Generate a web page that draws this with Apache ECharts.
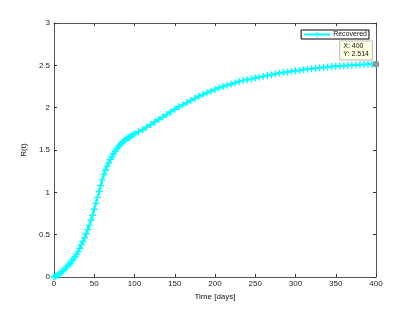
<!DOCTYPE html>
<html>
<head>
<meta charset="utf-8">
<script src="https://cdn.jsdelivr.net/npm/echarts@6/dist/echarts.min.js"></script>
<style>html,body{margin:0;padding:0;background:#fff;}#c{width:415px;height:312px;}</style>
</head>
<body>
<div id="c"></div>
<script>
// Data
const days = [0,2,4,6,8,10,12,14,16,18,20,22,24,26,28,30,32,34,36,38,40,42,44,46,48,50,52,54,56,58,60,62,64,66,68,70,72,74,76,78,80,82,84,86,88,90,92,94,96,98,100,
  105,110,115,120,125,130,135,140,145,150,155,160,165,170,175,180,185,190,195,200,205,210,215,220,225,230,235,240,245,250,255,260,265,270,275,280,285,290,295,300,305,310,315,320,325,330,335,340,345,350,355,360,365,370,375,380,385,390,395,400];
const recovered = [0,0.008,0.02,0.033,0.046,0.06,0.08,0.10,0.12,0.14,0.16,0.185,0.21,0.24,0.27,0.30,0.34,0.38,0.42,0.465,0.51,0.56,0.61,0.67,0.73,0.80,0.87,0.94,1.01,1.08,1.15,1.21,1.26,1.31,1.35,1.39,1.42,1.455,1.485,1.515,1.54,1.56,1.58,1.60,1.615,1.63,1.645,1.655,1.665,1.68,1.69,
  1.715,1.74,1.77,1.80,1.83,1.86,1.89,1.92,1.95,1.98,2.01,2.035,2.06,2.085,2.11,2.135,2.155,2.175,2.195,2.215,2.235,2.25,2.265,2.28,2.295,2.31,2.32,2.33,2.34,2.35,2.36,2.37,2.38,2.39,2.40,2.41,2.415,2.42,2.43,2.435,2.44,2.45,2.455,2.46,2.465,2.47,2.475,2.48,2.485,2.49,2.493,2.496,2.499,2.502,2.505,2.508,2.51,2.512,2.513,2.514];
const xTicks = [0,50,100,150,200,250,300,350,400];
const yTicks = [0,0.5,1,1.5,2,2.5,3];
const seriesName = 'Recovered';
const xName = 'Time [days]';
const yName = 'R(t)';

const tipX = days[days.length-1];
const tipY = recovered[recovered.length-1];

const font = 'Liberation Sans, Arial, sans-serif';
const axisColor = '#555';
const plus = 'path://M4,0H6V4H10V6H6V10H4V6H0V4H4Z';

const chart = echarts.init(document.getElementById('c'), null, {renderer:'canvas'});
const baseX = {
  type:'value', min:xTicks[0], max:xTicks[xTicks.length-1], interval:50,
  axisLine:{show:true, onZero:false, lineStyle:{color:axisColor, width:1}},
  axisTick:{show:true, inside:true, length:3, lineStyle:{color:'#333'}},
  splitLine:{show:false}
};
const baseY = {
  type:'value', min:yTicks[0], max:yTicks[yTicks.length-1], interval:0.5,
  axisLine:{show:true, onZero:false, lineStyle:{color:axisColor, width:1}},
  axisTick:{show:true, inside:true, length:3, lineStyle:{color:'#333'}},
  splitLine:{show:false}
};
chart.setOption({
  animation:false,
  backgroundColor:'#fff',
  textStyle:{fontFamily:font},
  grid:{left:54, right:39, top:23, bottom:35},
  legend:{
    show:true, right:46, top:30, orient:'horizontal',
    backgroundColor:'#fff', borderColor:'#000', borderWidth:1, borderRadius:0,
    padding:[1,2,1,2], itemWidth:26, itemHeight:7, itemGap:2,
    textStyle:{fontSize:7, color:'#111', fontFamily:font, padding:[0,0,0,-2]},
    data:[{name:seriesName}]
  },
  xAxis:[
    Object.assign({}, baseX, {position:'bottom', name:xName, nameLocation:'middle', nameGap:15,
      nameTextStyle:{fontSize:8, color:'#111', fontFamily:font},
      axisLabel:{show:true, fontSize:8, color:'#222', margin:3, fontFamily:font,
        formatter:v=>xTicks.includes(v)?String(v):''}}),
    Object.assign({}, baseX, {position:'top', axisLabel:{show:false}})
  ],
  yAxis:[
    Object.assign({}, baseY, {position:'left', name:yName, nameLocation:'middle', nameGap:20,
      nameTextStyle:{fontSize:8, color:'#111', fontFamily:font},
      axisLabel:{show:true, fontSize:8, color:'#222', margin:4, fontFamily:font,
        formatter:v=>yTicks.includes(v)?String(v):''}}),
    Object.assign({}, baseY, {position:'right', axisLabel:{show:false}})
  ],
  series:[{
    name:seriesName, type:'line', xAxisIndex:0, yAxisIndex:0,
    data:days.map((d,i)=>[d, recovered[i]]),
    showSymbol:true, showAllSymbol:true, symbol:plus, symbolSize:7, clip:false,
    lineStyle:{color:'#00ffff', width:2},
    itemStyle:{color:'#00ffff'},
    markPoint:{
      symbol:'rect', symbolSize:5,
      itemStyle:{color:'#9a9a9a', borderColor:'#777', borderWidth:0.5},
      label:{show:true, formatter:'X: '+tipX+'\nY: '+tipY,
        position:[-33,-20], align:'left', verticalAlign:'top',
        fontSize:7, color:'#111', lineHeight:8, fontFamily:font,
        backgroundColor:'#ffffe4', borderColor:'#bbb', borderWidth:1, padding:[1,3,1,3]},
      data:[{coord:[tipX, tipY]}]
    }
  }]
});
</script>
</body>
</html>
